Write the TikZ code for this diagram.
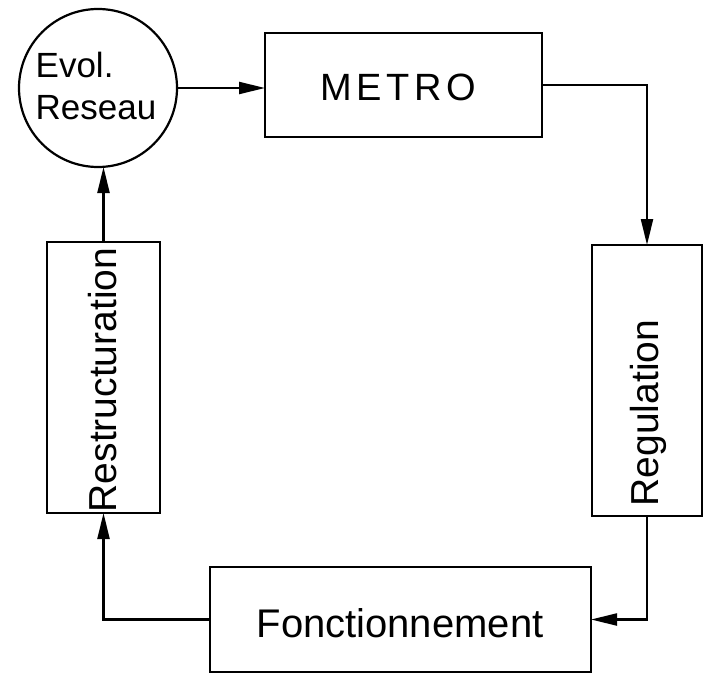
\documentclass[tikz,border=0pt]{standalone}
\usepackage{fontspec}
\setmainfont{Liberation Sans}
\usetikzlibrary{arrows.meta}
\begin{document}
\begin{tikzpicture}[x=1pt,y=1pt,
  every node/.style={inner sep=0pt, outer sep=0pt},
  boxnode/.style={draw, line width=2.2pt, rectangle},
  lbl/.style={font=\fontsize{39}{46}\selectfont},
  conn/.style={line width=2.2pt, -{Triangle[length=26pt,width=12pt]}}]
\useasboundingbox (0,0) rectangle (706,-674);
% nodes
\node[draw, line width=2.2pt, circle, minimum size=158pt] (evol) at (98,-88) {};
\node[font=\fontsize{35}{42}\selectfont, align=left] (evoltxt) at (96,-86) {Evol.\\Reseau};
\node[boxnode, minimum width=277pt, minimum height=104pt] (metro) at (403.5,-85) {};
\node[font=\fontsize{38}{44}\selectfont] (metrotxt) at (398,-87) {\addfontfeature{LetterSpace=12}METRO};
\node[boxnode, minimum width=110pt, minimum height=271pt] (reg) at (647,-380.5) {};
\node[lbl, rotate=90] (regtxt) at (648,-413) {Regulation};
\node[boxnode, minimum width=381pt, minimum height=105pt] (fonct) at (400.5,-619.5) {};
\node[font=\fontsize{40}{46}\selectfont] (fonctxt) at (400,-623) {Fonctionnement};
\node[boxnode, minimum width=113pt, minimum height=271pt] (restr) at (103.5,-377.5) {};
\node[lbl, rotate=90] (restrtxt) at (103,-380) {Restructuration};
% connectors
\draw[conn] (evol.east) -- (evol.east -| metro.west);
\draw[conn] (metro.east) -| (reg.north);
\draw[conn] (reg.south) |- (fonct.east);
\draw[conn] (fonct.west) -| (restr.south);
\draw[conn] (restr.north) -- (restr.north |- evol.south);
\end{tikzpicture}
\end{document}
